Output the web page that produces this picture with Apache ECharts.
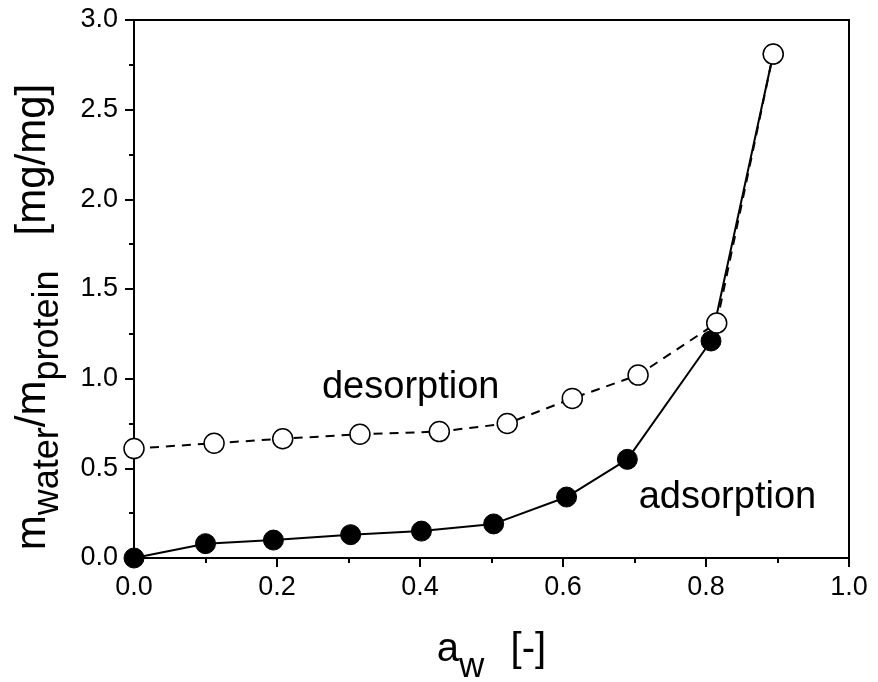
<!DOCTYPE html>
<html><head><meta charset="utf-8">
<script src="https://cdn.jsdelivr.net/npm/echarts@6/dist/echarts.min.js"></script>
<style>html,body{margin:0;padding:0;background:#fff}#c{width:878px;height:682px}</style>
</head><body><div id="c"></div>
<script>
const adsX = [0.0, 0.10, 0.195, 0.303, 0.402, 0.503, 0.605, 0.69, 0.807, 0.894];
const adsY = [0.0, 0.08, 0.10, 0.13, 0.15, 0.19, 0.34, 0.55, 1.21, 2.81];
const desX = [0.0, 0.112, 0.208, 0.316, 0.427, 0.522, 0.613, 0.705, 0.815, 0.894];
const desY = [0.61, 0.64, 0.665, 0.69, 0.705, 0.75, 0.89, 1.02, 1.31, 2.81];
const xTicks = [0.0, 0.2, 0.4, 0.6, 0.8, 1.0];
const yTicks = [0.0, 0.5, 1.0, 1.5, 2.0, 2.5, 3.0];
const labels = [
  {text: 'desorption', x: 0.387, y: 0.95},
  {text: 'adsorption', x: 0.83, y: 0.335}
];

const chart = echarts.init(document.getElementById('c'));
const font = 'Liberation Sans, Arial, sans-serif';
const axisCommon = {
  axisLine: {show: true, lineStyle: {color: '#000', width: 2}},
  axisTick: {show: true, inside: false, length: 9, lineStyle: {color: '#000', width: 2}},
  minorTick: {show: true, splitNumber: 2, length: 5, lineStyle: {color: '#000', width: 2}},
  splitLine: {show: false},
  axisLabel: {color: '#000', fontSize: 27, fontFamily: font}
};
const ads = adsX.map((x, i) => [x, adsY[i]]);
const des = desX.map((x, i) => [x, desY[i]]);
chart.setOption({
  animation: false,
  backgroundColor: '#fff',
  grid: {left: 134, right: 29, top: 20, bottom: 124, show: true, borderColor: '#000', borderWidth: 2,
         containLabel: false, outerBoundsMode: 'none'},
  xAxis: Object.assign({}, axisCommon, {
    type: 'value', min: 0, max: 1.0, interval: 0.2,
    axisLabel: Object.assign({}, axisCommon.axisLabel, {margin: 16, formatter: v => xTicks.includes(+v.toFixed(1)) ? v.toFixed(1) : ''}),
    name: '{m|a}{s|w}{g|  [-]}', nameLocation: 'middle', nameGap: 68,
    nameTextStyle: {rich: {
      m: {fontSize: 40, fontFamily: font, color: '#000', verticalAlign: 'bottom', lineHeight: 44},
      s: {fontSize: 35, fontFamily: font, color: '#000', verticalAlign: 'bottom', lineHeight: 44, padding: [0,0,-15,0]},
      g: {fontSize: 40, fontFamily: font, color: '#000', verticalAlign: 'bottom', lineHeight: 44, padding: [0,0,0,4]}
    }}
  }),
  yAxis: Object.assign({}, axisCommon, {
    type: 'value', min: 0, max: 3.0, interval: 0.5,
    axisLabel: Object.assign({}, axisCommon.axisLabel, {margin: 16, formatter: v => yTicks.includes(+v.toFixed(1)) ? v.toFixed(1) : ''}),
    name: '{m|m}{s|water}{m|/m}{s|protein}{m|   [mg/mg]}', nameLocation: 'middle', nameGap: 80, nameRotate: 90,
    nameTextStyle: {padding: [0, 56, 0, 0], rich: {
      m: {fontSize: 42, fontFamily: font, color: '#000', verticalAlign: 'bottom', lineHeight: 46},
      s: {fontSize: 36, fontFamily: font, color: '#000', verticalAlign: 'bottom', lineHeight: 46, padding: [0,0,-12,0]}
    }}
  }),
  series: [
    {type: 'line', data: ads, symbol: 'circle', symbolSize: 20, z: 3,
     lineStyle: {color: '#000', width: 2},
     itemStyle: {color: '#000', borderColor: '#000', borderWidth: 1}},
    {type: 'line', data: des, symbol: 'circle', symbolSize: 20, z: 4,
     lineStyle: {color: '#000', width: 2, type: [9, 7]},
     itemStyle: {color: '#fff', borderColor: '#000', borderWidth: 1.5}},
    {type: 'scatter', data: labels.map(l => ({value: [l.x, l.y], name: l.text})), symbolSize: 1, silent: true, z: 5,
     itemStyle: {color: 'rgba(0,0,0,0)', opacity: 1},
     emphasis: {disabled: true},
     label: {show: true, position: 'inside', formatter: p => p.name, fontSize: 38, fontFamily: font,
             color: '#000', opacity: 1, textBorderWidth: 0}}
  ]
});
</script></body></html>
